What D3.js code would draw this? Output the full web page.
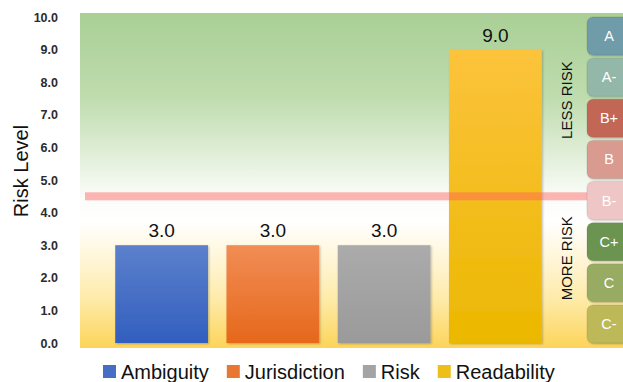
<!DOCTYPE html>
<html>
<head>
<meta charset="utf-8">
<script src="https://cdn.jsdelivr.net/npm/d3@7/dist/d3.min.js"></script>
<style>
  body { margin: 0; background: #fff; }
  svg { display: block; font-family: "Liberation Sans", Arial, sans-serif; }
</style>
</head>
<body>
<script>
'use strict';

// chart data
const categories = ["Ambiguity", "Jurisdiction", "Risk", "Readability"];
const values = [3.0, 3.0, 3.0, 9.0];
const yTicks = [0, 1, 2, 3, 4, 5, 6, 7, 8, 9, 10];
const grades = ["A", "A-", "B+", "B", "B-", "C+", "C", "C-"];
const threshold = [4.5];
const zoneLabels = ["LESS RISK", "MORE RISK"];

(function() {
  const width = 623, height = 382;

  const svg = d3.select('body')
    .append('svg')
    .attr('width', width)
    .attr('height', height);

  const defs = svg.append('defs');

  // bar colours: [top, bottom]
  const barColors = d3.scaleOrdinal()
    .domain(categories)
    .range([["#5c80cc", "#325fbe"], ["#f18d55", "#e6681b"], ["#ababab", "#9a9a9a"], ["#fcc33c", "#ebb800"]]);

  const gradeColors = d3.scaleOrdinal()
    .domain(grades)
    .range(["#6f9ba8", "#93b8a9", "#c26656", "#d99a90", "#efc6c6", "#6b944f", "#98ab62", "#bdb958"]);

  // scales
  const yScale = d3.scaleLinear()
    .domain([0, 10])
    .range([343, 17]);

  const xScale = d3.scaleBand()
    .domain(categories)
    .range([106, 551])
    .paddingInner(0.166)
    .paddingOuter(0.083);

  const gradeScale = d3.scaleBand()
    .domain(grades)
    .range([yScale(10), yScale(0)])
    .paddingInner(0.075)
    .paddingOuter(0);

  // background gradient green -> white -> yellow
  const bg = defs.append('linearGradient')
    .attr('id', 'bgGrad')
    .attr('x1', 0).attr('y1', 0).attr('x2', 0).attr('y2', 1);
  [[0, "#a9cf95"], [0.25, "#bfdcae"], [0.45, "#e6f1df"], [0.55, "#fbfdf9"], [0.62, "#ffffff"],
   [0.72, "#fff7dd"], [0.86, "#feeaa6"], [1, "#fdd45a"]].forEach(s => {
    bg.append('stop').attr('offset', s[0]).attr('stop-color', s[1]);
  });

  categories.forEach((c, i) => {
    const g = defs.append('linearGradient')
      .attr('id', 'barGrad' + i)
      .attr('x1', 0).attr('y1', 0).attr('x2', 0).attr('y2', 1);
    g.append('stop').attr('offset', 0).attr('stop-color', barColors(c)[0]);
    g.append('stop').attr('offset', 1).attr('stop-color', barColors(c)[1]);
  });

  const shadow = defs.append('filter')
    .attr('id', 'shadow')
    .attr('x', '-10%').attr('y', '-10%').attr('width', '130%').attr('height', '130%');
  shadow.append('feDropShadow')
    .attr('dx', 1).attr('dy', 1).attr('stdDeviation', 1.2)
    .attr('flood-color', '#000').attr('flood-opacity', 0.25);

  // plot background
  svg.append('rect')
    .attr('x', 80)
    .attr('y', yScale(10) - 4)
    .attr('width', width - 80)
    .attr('height', yScale(0) - yScale(10) + 9)
    .attr('fill', 'url(#bgGrad)');

  // y axis
  const yAxis = d3.axisLeft(yScale)
    .tickValues(yTicks)
    .tickFormat(d3.format(".1f"))
    .tickSize(0)
    .tickPadding(3);
  const yg = svg.append('g')
    .attr('transform', 'translate(61, 0)')
    .call(yAxis);
  yg.select('.domain').remove();
  yg.selectAll('text')
    .style('font-size', '12.5px')
    .style('font-weight', 'bold')
    .attr('fill', '#2b2b2b');

  svg.append('text')
    .attr('transform', 'translate(28, 171)rotate(-90)')
    .attr('text-anchor', 'middle')
    .style('font-size', '20px')
    .attr('fill', '#111')
    .text('Risk Level');

  // bars
  svg.selectAll('.bar')
    .data(categories)
    .enter()
    .append('rect')
      .attr('class', 'bar')
      .attr('x', d => xScale(d))
      .attr('y', (d, i) => yScale(values[i]))
      .attr('width', xScale.bandwidth())
      .attr('height', (d, i) => yScale(0) - yScale(values[i]))
      .attr('fill', (d, i) => 'url(#barGrad' + i + ')')
      .attr('filter', 'url(#shadow)');

  // threshold line
  svg.selectAll('.threshold')
    .data(threshold)
    .enter()
    .append('rect')
      .attr('x', 85)
      .attr('y', d => yScale(d) - 4)
      .attr('width', width - 85)
      .attr('height', 8)
      .attr('fill', '#ff5e5e')
      .attr('opacity', 0.45);

  // value labels
  svg.selectAll('.valueLabel')
    .data(categories)
    .enter()
    .append('text')
      .attr('x', d => xScale(d) + xScale.bandwidth() / 2)
      .attr('y', (d, i) => yScale(values[i]) - 8)
      .attr('text-anchor', 'middle')
      .style('font-size', '19px')
      .attr('fill', '#111')
      .text((d, i) => d3.format(".1f")(values[i]));

  // zone labels
  svg.selectAll('.zone')
    .data(zoneLabels)
    .enter()
    .append('text')
      .attr('transform', (d, i) => 'translate(572, ' + (i === 0 ? yScale(7.45) : yScale(2.6)) + ')rotate(-90)')
      .attr('text-anchor', 'middle')
      .style('font-size', '15px')
      .attr('fill', '#111')
      .text(d => d);

  // grade boxes
  const gb = svg.selectAll('.grade')
    .data(grades)
    .enter()
    .append('g');
  gb.append('rect')
    .attr('x', 587)
    .attr('y', d => gradeScale(d))
    .attr('width', 50)
    .attr('height', gradeScale.bandwidth())
    .attr('rx', 6)
    .attr('fill', d => gradeColors(d))
    .attr('stroke', 'rgba(0,0,0,0.08)')
    .attr('filter', 'url(#shadow)');
  gb.append('text')
    .attr('x', 609)
    .attr('y', d => gradeScale(d) + gradeScale.bandwidth() / 2 + 5)
    .attr('text-anchor', 'middle')
    .style('font-size', '14.5px')
    .attr('fill', '#fff')
    .text(d => d);

  // legend
  const legend = svg.append('g').attr('class', 'legend');
  let lx = 103;
  categories.forEach((c, i) => {
    legend.append('rect')
      .attr('x', lx)
      .attr('y', 365)
      .attr('width', 13)
      .attr('height', 13)
      .attr('fill', barColors(c)[1])
      .attr('opacity', 0.9);
    const t = legend.append('text')
      .attr('x', lx + 18)
      .attr('y', 379)
      .style('font-size', '20px')
      .attr('fill', '#111')
      .text(c);
    lx += 18 + t.node().getComputedTextLength() + 18;
  });
})();
</script>
</body>
</html>
